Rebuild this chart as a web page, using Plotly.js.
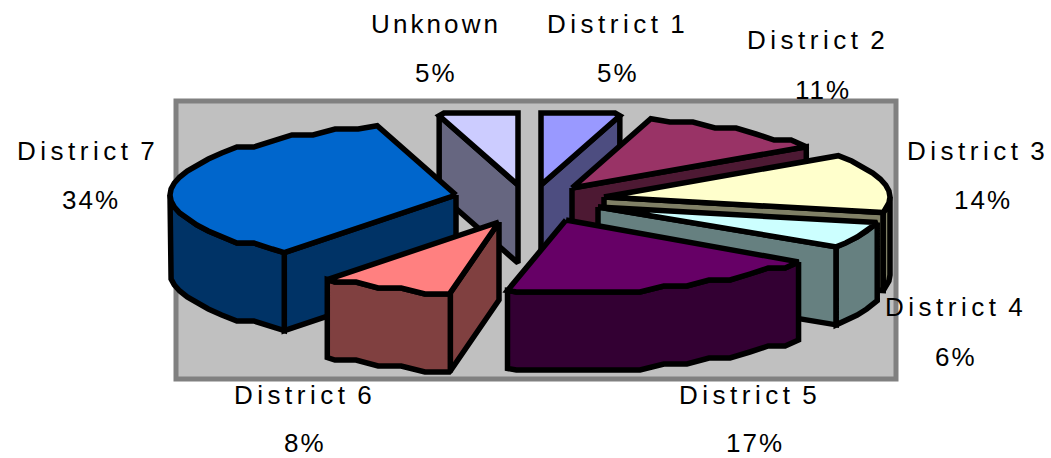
<!DOCTYPE html>
<html>
<head>
<meta charset="utf-8">
<script src="https://cdn.plot.ly/plotly-3.0.1.min.js"></script>
<style>
html,body{margin:0;padding:0;background:#fff;overflow:hidden}
</style>
</head>
<body>
<div id="chart" style="width:1051px;height:458px"></div>
<script>
// Data, clockwise from 12 o'clock
const categories = ["District 1","District 2","District 3","District 4","District 5","District 6","District 7","Unknown"];
const percents   = [5,11,14,6,17,8,34,5];

// Styles
const topColors  = ["#9999FF","#993366","#FFFFCC","#CCFFFF","#660066","#FF8080","#0066CC","#CCCCFF"];
const sideColors = ["#4D4D80","#4D1933","#808066","#668080","#330033","#804040","#003366","#666680"];

// Pull-out position of each slice's apex
const apexX = [541,572,604,598,566,499,456,518];
const apexY = [185,188,197,207,220,222,195,185];
// Small correction of each slice's edges for the drawing's projection (degrees)
const startShift = [0,-2,-2.6,-5.5,-4,-1,-2.7,2];
const endShift   = [-2,-2.6,-5.5,-6,1,-2.7,2,0];
// Label centres: name row and percent row
const labelX   = [618,818,978,956,750,305,88,436];
const labelY   = [24,40,151,307,395,395,151,24];
const pctX     = [618,823,983,956,755,305,91,436];
const pctY     = [73,90,200,357,443,443,200,73];
const labelSpacing = [4.5,4.5,4.5,4.5,4.5,4.5,4.5,3.1];
// Painter's order, back to front
const drawOrder = [0,7,1,2,3,6,5,4];

const RX = 286, RY = 72, DEPTH = 78, FACET = 5, SNAP = 6;
const rad = d => d*Math.PI/180;

function rimPoint(i, deg, snap){
  const rawY = -RY*Math.cos(rad(deg));
  const y = snap ? Math.round(rawY/SNAP)*SNAP : rawY;
  return [apexX[i] + RX*Math.sin(rad(deg)), apexY[i] + y];
}
function arc(i, a, b){
  const pts = [rimPoint(i,a,false)];
  for(let d = Math.ceil(a/FACET)*FACET; d < b; d += FACET){ if(d > a) pts.push(rimPoint(i,d,true)); }
  pts.push(rimPoint(i,b,false));
  return pts;
}
function face(pts, color, name){
  const closed = pts.concat([pts[0]]);
  return {
    type:"scatter", mode:"lines", fill:"toself", fillcolor:color, name:name,
    x:closed.map(p=>p[0]), y:closed.map(p=>p[1]),
    line:{color:"#000",width:5.5,shape:"linear"},
    hoverinfo:"name", showlegend:false
  };
}

const traces = [];
let start = [], acc = 0;
percents.forEach(v => { start.push(acc); acc += v*3.6; });

drawOrder.forEach(i => {
  const a = start[i] + startShift[i];
  const b = start[i] + percents[i]*3.6 + endShift[i];
  const name = categories[i];
  const apex = [apexX[i], apexY[i]];
  const drop = p => [p[0], p[1]+DEPTH];
  if(Math.sin(rad(a)) < -1e-6){
    const r = rimPoint(i,a,false);
    traces.push(face([apex,r,drop(r),drop(apex)], sideColors[i], name));
  }
  if(Math.sin(rad(b)) > 1e-6){
    const r = rimPoint(i,b,false);
    traces.push(face([apex,r,drop(r),drop(apex)], sideColors[i], name));
  }
  const fa = Math.max(a,90), fb = Math.min(b,270);
  if(fb > fa){
    const rim = arc(i,fa,fb);
    traces.push(face(rim.concat(rim.slice().reverse().map(drop)), sideColors[i], name));
  }
  traces.push(face([apex].concat(arc(i,a,b)), topColors[i], name));
});

const font = {family:"Liberation Sans, Arial, sans-serif", size:26, color:"#000"};
const annotations = [];
categories.forEach((c,i) => {
  annotations.push({x:labelX[i],y:labelY[i],text:'<span style="letter-spacing:'+labelSpacing[i]+'px;word-spacing:-4px">'+c+'</span>',showarrow:false,font:font,xanchor:"center",yanchor:"middle"});
  annotations.push({x:pctX[i],y:pctY[i],text:'<span style="letter-spacing:2px">'+percents[i]+'%</span>',showarrow:false,font:font,xanchor:"center",yanchor:"middle"});
});

Plotly.newPlot("chart", traces, {
  width:1051, height:458,
  margin:{l:0,r:0,t:0,b:0},
  paper_bgcolor:"#fff", plot_bgcolor:"#fff",
  xaxis:{range:[0,1051],visible:false,fixedrange:true},
  yaxis:{range:[458,0],visible:false,fixedrange:true},
  shapes:[{type:"rect",layer:"below",xref:"x",yref:"y",x0:176,x1:896,y0:101,y1:379,
           fillcolor:"#C0C0C0",line:{color:"#808080",width:5}}],
  annotations:annotations,
  showlegend:false
},{displayModeBar:false,staticPlot:true});
</script>
</body>
</html>
